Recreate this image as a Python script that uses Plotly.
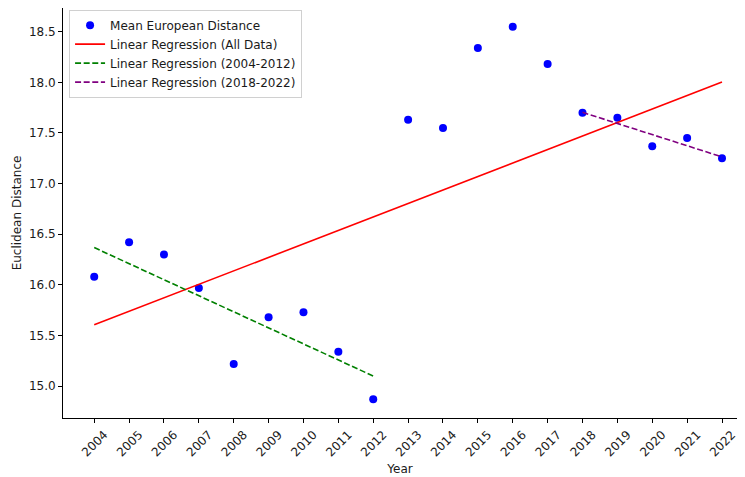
import numpy as np
import plotly.graph_objects as go

# values
years = list(range(2004, 2023))
mean_distance = [16.08, 16.42, 16.30, 15.97, 15.22, 15.68, 15.73, 15.34, 14.87,
                 17.63, 17.55, 18.34, 18.55, 18.18, 17.70, 17.65, 17.37, 17.45, 17.25]
y_ticks = [15.0, 15.5, 16.0, 16.5, 17.0, 17.5, 18.0, 18.5]

x = np.array(years, dtype=float)
y = np.array(mean_distance)


def fit(lo, hi):
    m = (x >= lo) & (x <= hi)
    k, b = np.polyfit(x[m], y[m], 1)
    return x[m], k * x[m] + b


FONT = "DejaVu Sans, Verdana, sans-serif"
DASH = "6px,2.6px"

fig = go.Figure()
fig.add_trace(go.Scatter(x=years, y=mean_distance, mode="markers",
                         marker=dict(color="#0000ff", size=8),
                         name="Mean European Distance"))
fx, fy = fit(2004, 2022)
fig.add_trace(go.Scatter(x=fx, y=fy, mode="lines",
                         line=dict(color="#ff0000", width=1.6),
                         name="Linear Regression (All Data)"))
fx, fy = fit(2004, 2012)
fig.add_trace(go.Scatter(x=fx, y=fy, mode="lines",
                         line=dict(color="#008000", width=1.6, dash=DASH),
                         name="Linear Regression (2004-2012)"))
fx, fy = fit(2018, 2022)
fig.add_trace(go.Scatter(x=fx, y=fy, mode="lines",
                         line=dict(color="#800080", width=1.6, dash=DASH),
                         name="Linear Regression (2018-2022)"))

# the page body adds 8px around the figure, so keep the width inside the window
fig.update_layout(
    width=729, height=469,
    margin=dict(l=55, r=0, t=0, b=59),
    paper_bgcolor="white", plot_bgcolor="white",
    font=dict(family=FONT, size=12, color="#1a1a1a"),
    showlegend=True,
    legend=dict(x=0.009, y=0.996, xanchor="left", yanchor="top",
                bgcolor="rgba(255,255,255,0.8)", bordercolor="#d0d0d0",
                borderwidth=1, font=dict(size=12), tracegroupgap=0),
)
fig.update_xaxes(
    range=[2003.105, 2022.43], tickmode="array", tickvals=years,
    ticktext=[str(v) for v in years], tickangle=-45, ticklabelshift=10,
    ticklabeloverflow="allow",
    ticks="outside", ticklen=4, tickcolor="black", showgrid=False,
    zeroline=False, showline=True, linecolor="black", linewidth=1, mirror=True,
    automargin=False,
    title=dict(text="Year", font=dict(size=12), standoff=6),
)
fig.update_yaxes(
    range=[14.686, 18.734], tickmode="array", tickvals=y_ticks,
    ticktext=[f"{v:.1f}" for v in y_ticks],
    ticks="outside", ticklen=4, tickcolor="black", showgrid=False,
    zeroline=False, showline=True, linecolor="black", linewidth=1,
    automargin=False,
    title=dict(text="Euclidean Distance", font=dict(size=12), standoff=4),
)

fig.write_html("out.html")
